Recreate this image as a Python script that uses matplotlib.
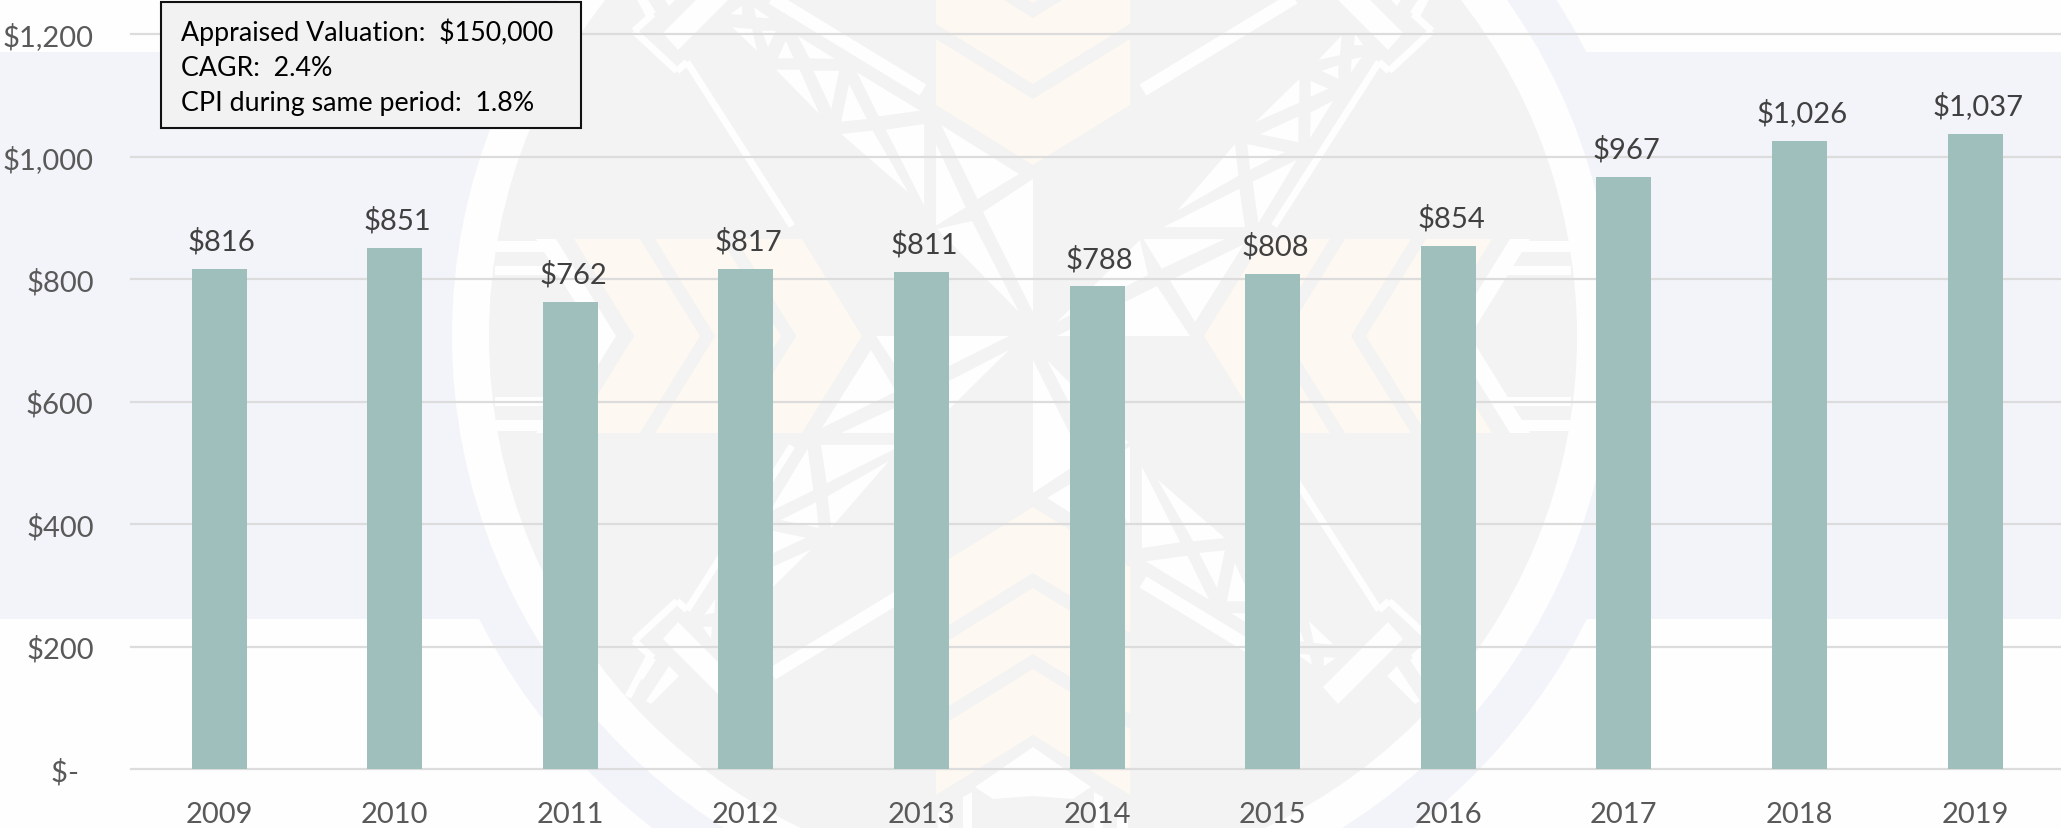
import math
import matplotlib
matplotlib.use("Agg")
import matplotlib.pyplot as plt
from matplotlib.patches import Circle, Polygon, Rectangle

plt.rcParams['font.family'] = ['Lato', 'DejaVu Sans']

# ---- data ----
years = ['2009', '2010', '2011', '2012', '2013', '2014', '2015', '2016', '2017', '2018', '2019']
rents = [816, 851, 762, 817, 811, 788, 808, 854, 967, 1026, 1037]
y_ticks = [0, 200, 400, 600, 800, 1000, 1200]
y_tick_labels = ['$-  ', '$200', '$400', '$600', '$800', '$1,000', '$1,200']
note_lines = ['Appraised Valuation:  $150,000', 'CAGR:  2.4%', 'CPI during same period:  1.8%']

# ---- colours ----
BAR = '#9fbfbd'
GRID = '#dcdcdc'
BLUE = '#f3f4fa'
GREY = '#f3f3f3'
ORANGE = '#fdf8f1'
WHITE = '#fefefe'

W, H = 2061, 829
fig = plt.figure(figsize=(W / 100, H / 100), dpi=100, facecolor=WHITE)

# ---- watermark background, in pixel coordinates ----
bg = fig.add_axes([0, 0, 1, 1], zorder=0)
bg.set_xlim(0, W)
bg.set_ylim(H, 0)
bg.axis('off')
CX, CY = 1033, 337


def poly(pts, color=WHITE, z=5):
    bg.add_patch(Polygon(pts, closed=True, facecolor=color, edgecolor='none', zorder=z))


def rot(pts, n):
    out = []
    for x, y in pts:
        dx, dy = x - CX, y - CY
        for _ in range(n):
            dx, dy = -dy, dx
        out.append((CX + dx, CY + dy))
    return out


def mirrors(pts):
    mx = [(2 * CX - x, y) for x, y in pts]
    my = [(x, 2 * CY - y) for x, y in pts]
    mxy = [(2 * CX - x, 2 * CY - y) for x, y in pts]
    return [pts, mx, my, mxy]


def z5(pts):
    return [(420 + a / 2.529, b / 3) for a, b in pts]


def strip(pts, w):
    """Thick polyline as a set of quads, one copy per quadrant."""
    for (x0, y0), (x1, y1) in zip(pts[:-1], pts[1:]):
        L = math.hypot(x1 - x0, y1 - y0)
        nx, ny = -(y1 - y0) / L * w / 2, (x1 - x0) / L * w / 2
        q = [(x0 + nx, y0 + ny), (x1 + nx, y1 + ny), (x1 - nx, y1 - ny), (x0 - nx, y0 - ny)]
        for m in mirrors(q):
            poly(m)


bg.add_patch(Rectangle((0, 53), W, 567, facecolor=BLUE, edgecolor='none', zorder=1))
bg.add_patch(Circle((CX, CY), 622, facecolor=BLUE, edgecolor='none', zorder=2))
bg.add_patch(Circle((CX, CY), 581, facecolor=WHITE, edgecolor='none', zorder=3))
bg.add_patch(Circle((CX, CY), 544, facecolor=GREY, edgecolor='none', zorder=4))

# orange chevrons, pointing to the centre
for tip in (700, 781, 862):
    chev = [(tip - 60, 240), (tip, 337), (tip - 60, 434), (tip - 126, 434), (tip - 66, 337), (tip - 126, 240)]
    for n in range(4):
        poly(rot(chev, n), ORANGE)

# white chevron and stripes near the left / right chevrons
wchev = [(616, 337), (556, 240), (536, 240), (596, 337), (536, 434), (556, 434)]
poly(wchev)
poly(rot(wchev, 2))
for bar in ([(495, 242), (556, 242), (562, 253), (495, 253)],
            [(495, 267), (572, 267), (577, 276), (495, 276)],
            [(495, 432), (556, 432), (562, 421), (495, 421)],
            [(495, 407), (572, 407), (577, 398), (495, 398)]):
    for n in range(4):
        poly(rot(bar, n))
poly([(1033, 748), (975, 788), (993, 800), (1033, 797), (1073, 800), (1091, 788)])

# star triangles: one arm, turned four times
arm = [
    z5([(785, 45), (815, 20), (815, 48)]),
    z5([(845, 25), (885, 58), (850, 55)]),
    z5([(790, 85), (840, 90), (852, 155)]),
    z5([(865, 95), (900, 95), (880, 145)]),
    z5([(905, 178), (925, 125), (945, 178)]),
    z5([(955, 110), (1050, 180), (985, 178)]),
    z5([(900, 212), (960, 212), (1010, 345)]),
    z5([(995, 215), (1060, 215), (1040, 330)]),
    z5([(1085, 255), (1130, 360), (1065, 368)]),
    z5([(1105, 220), (1265, 335), (1160, 352)]),
    z5([(1065, 405), (1145, 395), (1235, 580)]),
    z5([(1178, 392), (1275, 375), (1275, 620)]),
    z5([(1305, 435), (1380, 625), (1305, 680)]),
    z5([(1318, 378), (1515, 525), (1410, 600)]),
    [(983, 213), (1033, 180), (1033, 313)],
    [(937, 230), (972, 222), (1019, 313)],
]
for tri in arm:
    for n in range(4):
        poly(rot(tri, n))

# long strips and hooks, mirrored into each quadrant
strip([(923, 91), (772, -1)], 13)
strip([(640, -5), (653, 15), (634, 32), (677, 72), (687, 63), (792, 227)], 7)
for m in mirrors([(678, 51), (663, 34), (728, -31), (743, -14)]):
    poly(m)
strip([(649, 16), (628, -24)], 7)
for m in mirrors([(669, 7), (679, -3), (651, -31), (646, -28)]):
    poly(m)

# ---- chart ----
PX_CAT = 175.6
left, base, top = 131.2, 770.3, 35.0
ax = fig.add_axes([left / W, (H - base) / H, (W - left) / W, (base - top) / H], zorder=1)
ax.patch.set_alpha(0)
x = list(range(len(years)))
ax.bar(x, rents, width=55 / PX_CAT, color=BAR, zorder=3)
ax.set_xlim(-0.5, -0.5 + (W - left) / PX_CAT)
ax.set_ylim(0, 1200)
ax.set_yticks(y_ticks, y_tick_labels, fontsize=21, color='#595959')
ax.set_xticks(x, years, fontsize=21, color='#595959')
ax.tick_params(axis='both', length=0)
ax.tick_params(axis='y', pad=27)
ax.tick_params(axis='x', pad=23)
for s in ax.spines.values():
    s.set_visible(False)
for v in y_ticks:
    ax.axhline(v, color=GRID, lw=1.6, zorder=2, clip_on=False)
for xi, v in zip(x, rents):
    ax.annotate(f'${v:,}', (xi, v), xytext=(2, 14), textcoords='offset points',
                ha='center', va='baseline', fontsize=21, color='#404040', zorder=4)

# ---- note box ----
over = fig.add_axes([0, 0, 1, 1], zorder=3)
over.set_xlim(0, W)
over.set_ylim(H, 0)
over.axis('off')
over.add_patch(Rectangle((161, 2.5), 420, 126.5, facecolor='#f2f2f2', edgecolor='#111111', lw=1.5))
for line, yy in zip(note_lines, (41, 76, 111)):
    over.text(181, yy, line, fontsize=19.3, color='black', ha='left', va='baseline')

fig.savefig('out.png', dpi=100, facecolor=WHITE)
